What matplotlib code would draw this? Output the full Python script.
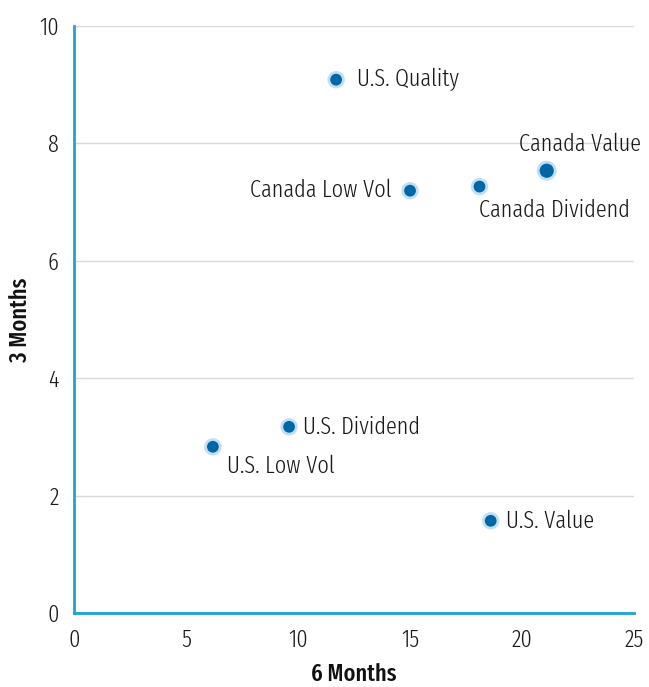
import matplotlib
matplotlib.use("Agg")
import matplotlib.pyplot as plt
from matplotlib import font_manager

names = {f.name for f in font_manager.fontManager.ttflist}
fam = "DejaVu Sans"
for c in ["Fira Sans Extra Condensed", "Fira Sans Condensed", "Roboto Condensed",
          "PT Sans Narrow", "Archivo Narrow", "Liberation Sans Narrow"]:
    if c in names:
        fam = c
        break
plt.rcParams['font.family'] = [fam, 'DejaVu Sans']

labels = ["U.S. Quality", "Canada Low Vol", "Canada Dividend", "Canada Value",
          "U.S. Dividend", "U.S. Low Vol", "U.S. Value"]
six_months = [11.7, 15.0, 18.1, 21.1, 9.6, 6.2, 18.6]
three_months = [9.08, 7.19, 7.26, 7.53, 3.17, 2.83, 1.57]
sizes = [110, 110, 110, 150, 110, 110, 110]

offsets = {
    "U.S. Quality": ((15, 0), "left", "center"),
    "Canada Low Vol": ((-13, 0), "right", "center"),
    "Canada Dividend": ((0, -17), "left", "center"),
    "Canada Value": ((-20, 19), "left", "center"),
    "U.S. Dividend": ((10, 0), "left", "center"),
    "U.S. Low Vol": ((10, -14), "left", "center"),
    "U.S. Value": ((11, 0), "left", "center"),
}

FS = 17.5
fig = plt.figure(figsize=(6.49, 6.87), dpi=100)
ax = fig.add_axes([0.114, 0.1077, 0.863, 0.855])
ax.set_xlim(0, 25)
ax.set_ylim(0, 10)
ax.set_xticks([0, 5, 10, 15, 20, 25])
ax.set_yticks([0, 2, 4, 6, 8, 10])
ax.grid(axis='y', color='#d9d9d9', linewidth=1)
ax.set_axisbelow(True)
for s in ['top', 'right']:
    ax.spines[s].set_visible(False)
for s in ['left', 'bottom']:
    ax.spines[s].set_color('#1ca5d3')
    ax.spines[s].set_linewidth(2)
ax.tick_params(length=0, labelsize=FS, colors='#1a1a1a', pad=11)
for t in ax.get_xticklabels() + ax.get_yticklabels():
    t.set_fontweight(300)

ax.scatter(six_months, three_months, s=sizes, color='#0066a6',
           edgecolors='#bfe0f3', linewidths=2, zorder=3)
for lab, x, y in zip(labels, six_months, three_months):
    (dx, dy), ha, va = offsets[lab]
    ax.annotate(lab, (x, y), xytext=(dx, dy), textcoords='offset points',
                ha=ha, va=va, fontsize=FS, fontweight=300, color='#1a1a1a')

ax.set_xlabel("6 Months", fontsize=FS, fontweight=500, color='#111111', labelpad=8)
ax.set_ylabel("3 Months", fontsize=FS, fontweight=500, color='#111111', labelpad=5)
fig.savefig("out.png", dpi=100)
